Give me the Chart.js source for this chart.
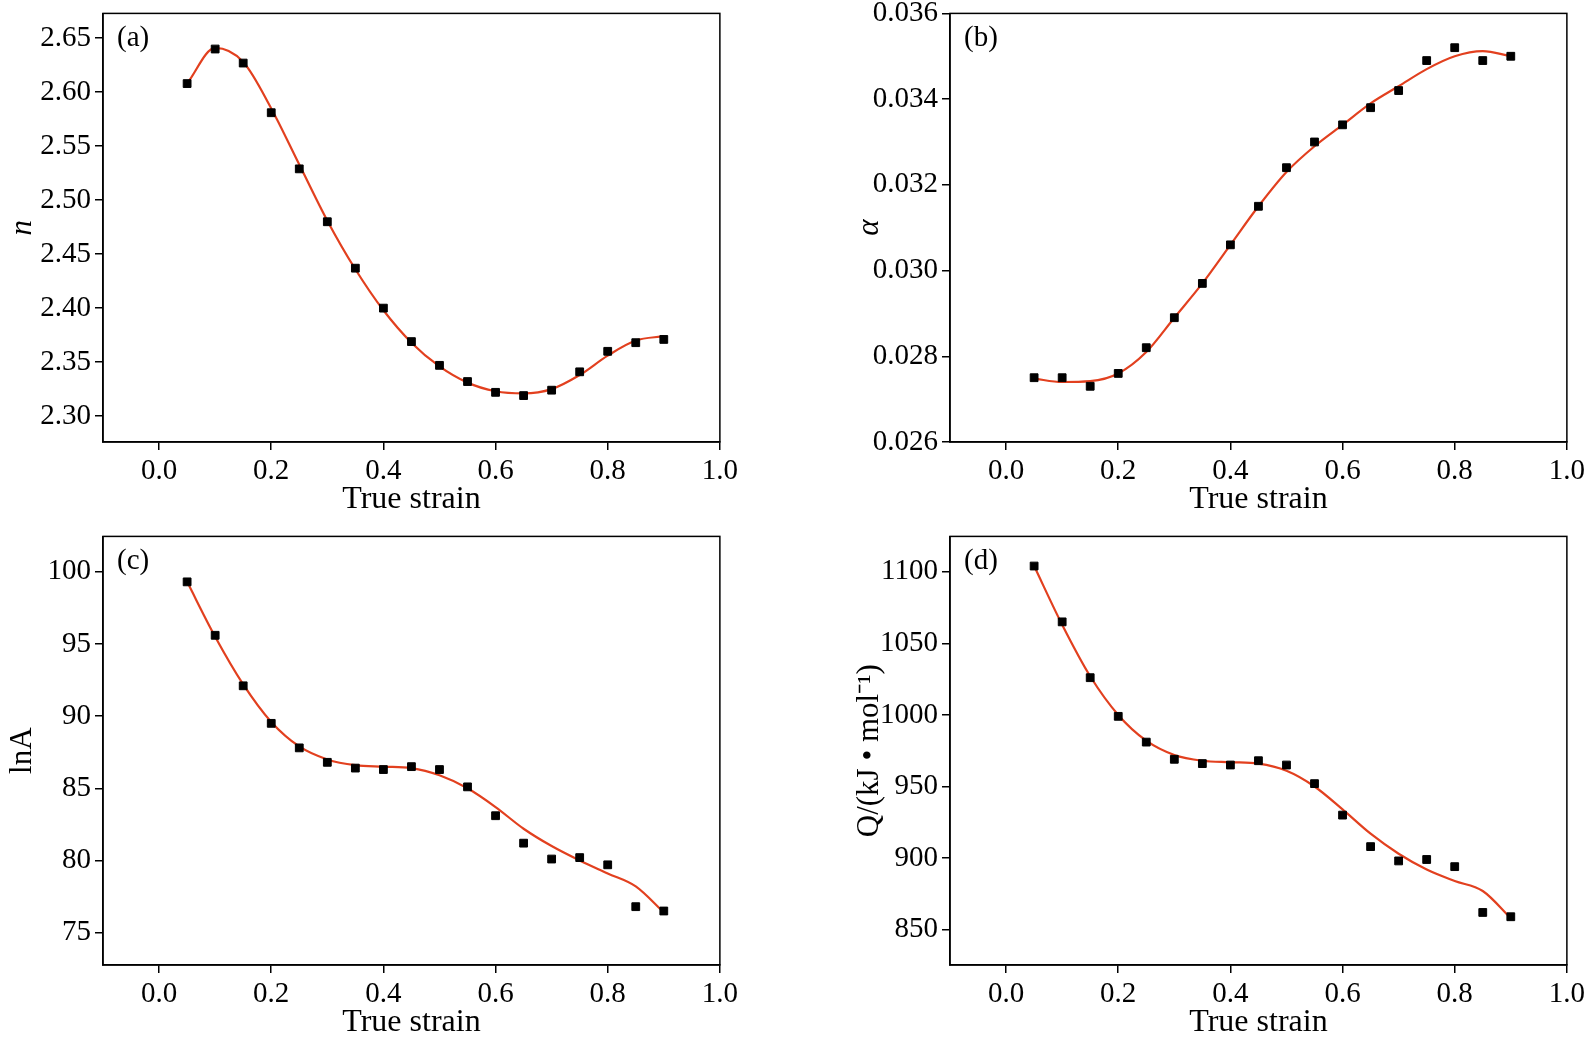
<!DOCTYPE html>
<html>
<head>
<meta charset="utf-8">
<script src="https://cdn.jsdelivr.net/npm/chart.js@4/dist/chart.umd.min.js"></script>
<style>
  body { margin: 0; background: #fff; width: 1589px; height: 1037px; overflow: hidden; position: relative; }
  .panel { position: absolute; width: 742px; height: 531px; }
</style>
</head>
<body>
<div class="panel" style="left:0;top:-8px"><canvas id="ca"></canvas></div>
<div class="panel" style="left:847px;top:-8px"><canvas id="cb"></canvas></div>
<div class="panel" style="left:0;top:515px"><canvas id="cc"></canvas></div>
<div class="panel" style="left:847px;top:515px"><canvas id="cd"></canvas></div>
<script>
// shared x values (true strain)
const strain = [0.05, 0.1, 0.15, 0.2, 0.25, 0.3, 0.35, 0.4, 0.45, 0.5, 0.55, 0.6, 0.65, 0.7, 0.75, 0.8, 0.85, 0.9];
const xTicks = [0.0, 0.2, 0.4, 0.6, 0.8, 1.0];

// (a) n
const nPoints = [2.608, 2.640, 2.627, 2.581, 2.529, 2.480, 2.437, 2.400, 2.369, 2.347, 2.332, 2.322, 2.319, 2.324, 2.341, 2.360, 2.368, 2.371];
const nFit = [2.608, 2.641, 2.628, 2.585, 2.533, 2.481, 2.436, 2.398, 2.368, 2.346, 2.331, 2.323, 2.321, 2.325, 2.338, 2.356, 2.370, 2.374];
const nTicks = [2.30, 2.35, 2.40, 2.45, 2.50, 2.55, 2.60, 2.65];

// (b) alpha
const aPoints = [0.0275, 0.0275, 0.0273, 0.0276, 0.0282, 0.0289, 0.0297, 0.0306, 0.0315, 0.0324, 0.0330, 0.0334, 0.0338, 0.0342, 0.0349, 0.0352, 0.0349, 0.0350];
const aFit = [0.02748, 0.02740, 0.02742, 0.0276, 0.0281, 0.0289, 0.0297, 0.0306, 0.0315, 0.0323, 0.0329, 0.0334, 0.0339, 0.0343, 0.0347, 0.0350, 0.03512, 0.0350];
const aTicks = [0.026, 0.028, 0.030, 0.032, 0.034, 0.036];

// (c) lnA
const lnAPoints = [99.3, 95.6, 92.1, 89.5, 87.8, 86.8, 86.4, 86.3, 86.5, 86.3, 85.1, 83.1, 81.2, 80.1, 80.2, 79.7, 76.8, 76.5];
const lnAFit = [99.3, 95.5, 92.2, 89.6, 87.9, 87.0, 86.6, 86.5, 86.4, 85.9, 85.0, 83.7, 82.2, 81.0, 80.0, 79.1, 78.2, 76.4];
const lnATicks = [75, 80, 85, 90, 95, 100];

// (d) Q
const qPoints = [1104, 1065, 1026, 999, 981, 969, 966, 965, 968, 965, 952, 930, 908, 898, 899, 894, 862, 859];
const qFit = [1104, 1063, 1027, 1000, 982, 972, 968, 967, 966, 961, 950, 934, 917, 903, 892, 884, 877, 858];
const qTicks = [850, 900, 950, 1000, 1050, 1100];

const FONT = 'Liberation Serif';

const boxPlugin = {
  id: 'box',
  afterDraw(chart, args, opts) {
    const { ctx, chartArea: a } = chart;
    ctx.save();
    ctx.strokeStyle = '#000';
    ctx.lineWidth = 1.5;
    ctx.strokeRect(a.left, a.top, a.right - a.left, a.bottom - a.top);
    ctx.fillStyle = '#000';
    ctx.font = '29px ' + FONT;
    ctx.textBaseline = 'top';
    ctx.fillText(opts.label, a.left + 14, a.top + 10);
    ctx.restore();
  }
};

function makePanel(id, label, pts, fit, yMin, yMax, yTicks, yTitle, digits, italic) {
  const toXY = arr => arr.map((v, i) => ({ x: strain[i], y: v }));
  new Chart(document.getElementById(id), {
    type: 'scatter',
    data: {
      datasets: [
        { data: toXY(fit), showLine: true, borderColor: '#e2401f', borderWidth: 2.2,
          pointRadius: 0, cubicInterpolationMode: 'monotone', order: 2 },
        { data: toXY(pts), pointStyle: 'rect', pointRadius: 5.5, backgroundColor: '#000',
          borderColor: '#000', order: 1 }
      ]
    },
    options: {
      responsive: false, animation: false, devicePixelRatio: 1,
      layout: { padding: { top: 5, right: 17, left: 0, bottom: 0 } },
      plugins: { legend: { display: false }, tooltip: { enabled: false }, box: { label } },
      scales: {
        x: {
          type: 'linear', min: -0.1, max: 1.0,
          afterBuildTicks: s => { s.ticks = xTicks.map(v => ({ value: v })); },
          afterFit: s => { s.height = 81; },
          grid: { drawOnChartArea: false, tickLength: 8, color: '#000', lineWidth: 1.5 },
          border: { color: '#000', width: 1.5 },
          ticks: { color: '#000', font: { family: FONT, size: 29 }, padding: 4, callback: v => v.toFixed(1), maxRotation: 0 },
          title: { display: true, text: 'True strain', color: '#000', font: { family: FONT, size: 32 }, padding: { top: 0 } }
        },
        y: {
          min: yMin, max: yMax,
          afterBuildTicks: s => { s.ticks = yTicks.map(v => ({ value: v })); },
          afterFit: s => { s.width = 103; },
          grid: { drawOnChartArea: false, tickLength: 8, color: '#000', lineWidth: 1.5 },
          border: { color: '#000', width: 1.5 },
          ticks: { color: '#000', font: { family: FONT, size: 29 }, padding: 4, callback: v => v.toFixed(digits) },
          title: { display: true, text: yTitle, color: '#000',
                   font: { family: FONT, size: 31, style: italic ? 'italic' : 'normal' }, padding: { bottom: 0 } }
        }
      }
    },
    plugins: [boxPlugin]
  });
}

for (const id of ['ca', 'cb', 'cc', 'cd']) {
  const c = document.getElementById(id); c.width = 742; c.height = 531;
}
makePanel('ca', '(a)', nPoints, nFit, 2.276, 2.673, nTicks, 'n', 2, true);
makePanel('cb', '(b)', aPoints, aFit, 0.026, 0.036, aTicks, 'α', 3, true);
makePanel('cc', '(c)', lnAPoints, lnAFit, 72.76, 102.45, lnATicks, 'lnA', 0, false);
makePanel('cd', '(d)', qPoints, qFit, 825.3, 1124.7, qTicks, 'Q/(kJ • mol⁻¹)', 0, false);
</script>
</body>
</html>
